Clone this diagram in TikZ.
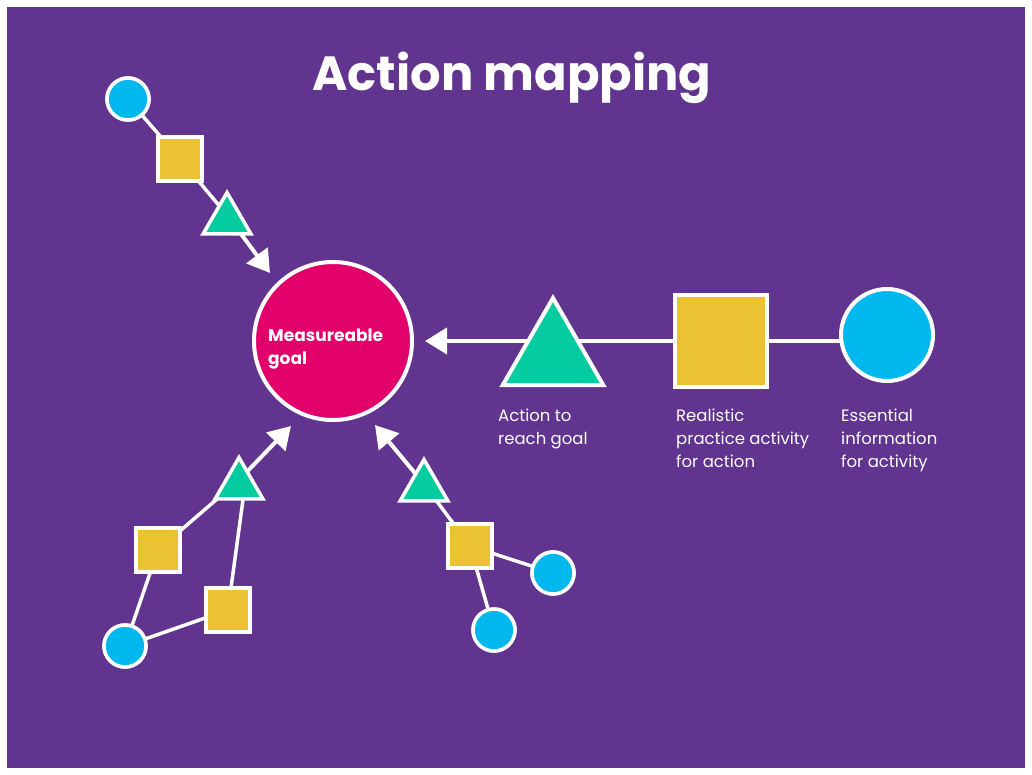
\documentclass[tikz,border=0pt]{standalone}
\usepackage{fontspec}
\setmainfont{Poppins}
\usetikzlibrary{shapes.geometric,arrows.meta}
\definecolor{bgp}{HTML}{61348F}
\definecolor{goalc}{HTML}{E2006A}
\definecolor{trig}{HTML}{05CBA0}
\definecolor{sqy}{HTML}{EAC234}
\definecolor{cyc}{HTML}{00B8EE}
\tikzset{
 link/.style={white,line width=3.5pt},
 arr/.style={white,line width=4pt,-{Triangle[width=26pt,length=22pt]}},
 bigc/.style={circle,draw=white,line width=4pt,fill=cyc,minimum size=92pt,inner sep=0},
 smc/.style={circle,draw=white,line width=3.5pt,fill=cyc,minimum size=42pt,inner sep=0},
 bigs/.style={rectangle,draw=white,line width=4pt,fill=sqy,minimum size=92pt,inner sep=0},
 sms/.style={rectangle,draw=white,line width=3.5pt,fill=sqy,minimum size=44pt,inner sep=0},
 bigt/.style={regular polygon,regular polygon sides=3,draw=white,line width=4pt,fill=trig,minimum size=116pt,inner sep=0},
 smt/.style={regular polygon,regular polygon sides=3,draw=white,line width=3.5pt,fill=trig,minimum size=55pt,inner sep=0},
 lab/.style={white,font=\fontsize{16.5}{23}\selectfont,align=left,anchor=north west,inner sep=0},
}
\begin{document}
\begin{tikzpicture}[x=1pt,y=-1pt]
\useasboundingbox (0,0) rectangle (1032,774);
\fill[white] (0,0) rectangle (1032,774);
\fill[bgp] (7,7) rectangle (1025,768);
\node[white,font=\fontsize{48}{54}\bfseries\selectfont] (title) at (512,78) {Action mapping};
% coordinates
\coordinate (gc) at (333,341);
\coordinate (tip1) at (425,341);
\coordinate (tip2) at (270,273);
\coordinate (tip3) at (291,426);
\coordinate (tip4) at (375,425);
\coordinate (bt) at (553,341);
\coordinate (t1p) at (227,215);
\coordinate (t2p) at (239,480);
\coordinate (t3p) at (424,484);
% links
\draw[link] (bt) -- (887,341);
\node[smc] (c1) at (128,99) {};
\node[sms] (s1) at (180,159) {};
\draw[link] (c1.center) -- (s1.center) -- (t1p);
\draw[arr] (t1p) -- (tip2);
\draw[arr] (t2p) -- (tip3);
\draw[arr] (t3p) -- (tip4);
\node[sms] (s2) at (158,550) {};
\node[sms] (s3) at (228,610) {};
\node[smc] (c2) at (125,646) {};
\draw[link] (c2.center) -- (s2.center) -- (t2p);
\draw[link] (c2.center) -- (s3.center) -- (245,485);
\node[sms] (s4) at (470,546) {};
\node[smc] (c3) at (553,573) {};
\node[smc] (c4) at (494,630) {};
\draw[link] (c3.center) -- (s4.center) -- (t3p);
\draw[link] (c4.center) -- (s4.center);
\draw[arr] (bt) -- (tip1);
% shapes
\node[smc] at (c1) {};
\node[sms] at (s1) {};
\node[smc] at (c2) {};
\node[sms] at (s2) {};
\node[sms] at (s3) {};
\node[smc] at (c3) {};
\node[smc] at (c4) {};
\node[sms] at (s4) {};
\node[smt] (t1) at (227,220) {};
\node[smt] (t2) at (239,485) {};
\node[smt] (t3) at (424,487) {};
\node[circle,draw=white,line width=4pt,fill=goalc,minimum size=158pt,inner sep=0] (goal) at (gc) {};
\node[white,font=\fontsize{17}{23}\bfseries\selectfont,align=left,anchor=west,inner sep=0] (gtext) at (268,349) {Measureable\\goal};
\node[bigt] (btri) at (553,356) {};
\node[bigs] (bsq) at (721,341) {};
\node[bigc] (bci) at (887,335) {};
\node[lab] (l1) at (498,409) {Action to\\reach goal};
\node[lab] (l2) at (676,409) {Realistic\\practice activity\\for action};
\node[lab] (l3) at (841,409) {Essential\\information\\for activity};
\end{tikzpicture}
\end{document}
